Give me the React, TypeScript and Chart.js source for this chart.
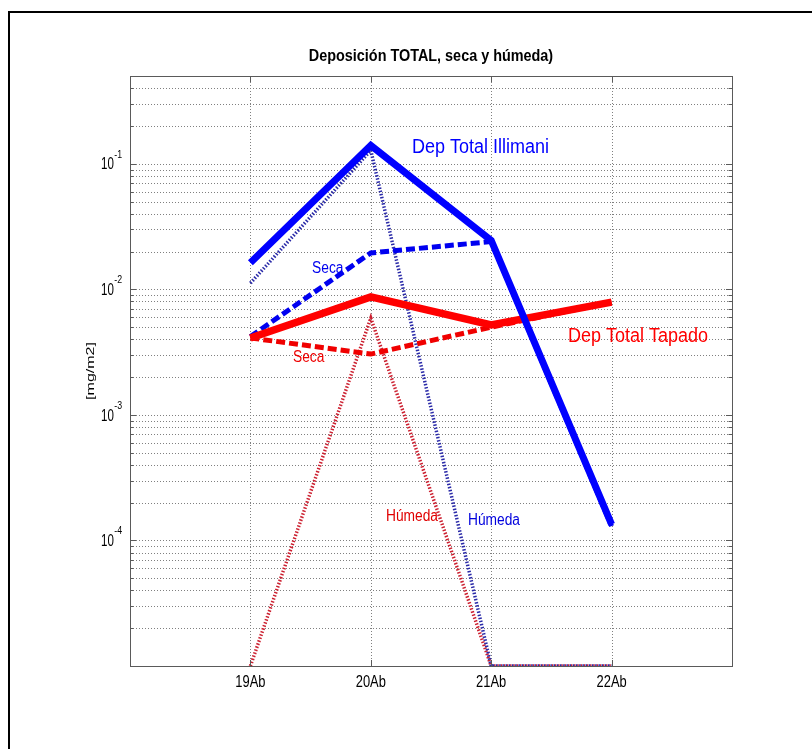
import React, { useEffect, useRef } from 'react';
import { Chart, registerables } from 'chart.js';

Chart.register(...registerables);

// ---- data ----
const categories = ['19Ab', '20Ab', '21Ab', '22Ab'];
const dayPositions = [19, 20, 21, 22];
const illimaniTotal = [0.0163, 0.14, 0.0245, 0.000134];
const illimaniSeca = [0.0042, 0.0195, 0.024, 0.00013];
const illimaniHumeda = [0.0112, 0.128, 0.00001, 0.00001];
const tapadoTotal = [0.0041, 0.0087, 0.0052, 0.0079];
const tapadoSeca = [0.0041, 0.00305, 0.005, 0.0079];
const tapadoHumeda = [0.00001, 0.0059, 0.00001, 0.00001];
const yTickExponents = [-4, -3, -2, -1];
const xLimits = [18, 23];
const yLimits = [1e-5, 0.5];
const titleText = 'Deposición TOTAL, seca y húmeda)';
const yAxisLabel = '[mg/m2]';
const annotationTexts = ['Dep Total Illimani', 'Seca', 'Húmeda', 'Dep Total Tapado', 'Seca', 'Húmeda'];
const annotationX = [20.342, 19.512, 20.807, 21.638, 19.354, 20.126];
const annotationY = [0.134, 0.01452, 0.000144, 0.00424, 0.00288, 0.000155];
const annotationSizes = [20, 16, 16, 20, 16, 16];
const annotationColors = ['#0000ff', '#0000ee', '#0000dd', '#ff0000', '#ee0000', '#e00000'];

const FONT = '"Liberation Sans", Arial, Helvetica, sans-serif';

function drawText(
  ctx: CanvasRenderingContext2D,
  text: string,
  x: number,
  y: number,
  o: { size: number; sx: number; color: string; align?: CanvasTextAlign; baseline?: CanvasTextBaseline; weight?: string; rotate?: number }
) {
  ctx.save();
  ctx.translate(x, y);
  ctx.scale(o.sx, 1);
  if (o.rotate) ctx.rotate(o.rotate);
  ctx.font = `${o.weight || 'normal'} ${o.size}px ${FONT}`;
  ctx.fillStyle = o.color;
  ctx.textAlign = o.align || 'left';
  ctx.textBaseline = o.baseline || 'middle';
  ctx.fillText(text, 0, 0);
  ctx.restore();
}

function gridValues(): { v: number; major: boolean }[] {
  const out: { v: number; major: boolean }[] = [];
  for (let e = -5; e <= -1; e++) {
    for (let m = 1; m <= 9; m++) {
      const v = m * Math.pow(10, e);
      if (v > yLimits[0] * 1.0001 && v < yLimits[1] * 0.9999) out.push({ v, major: m === 1 });
    }
  }
  return out;
}

const gridPlugin = {
  id: 'matlabGrid',
  beforeDatasetsDraw(chart: any) {
    const { ctx, chartArea: a, scales } = chart;
    const y = scales.y;
    const x = scales.x;
    ctx.save();
    ctx.strokeStyle = '#808080';
    ctx.lineWidth = 1;
    ctx.setLineDash([1, 2]);
    gridValues().forEach(({ v }) => {
      const py = Math.round(y.getPixelForValue(v)) + 0.5;
      ctx.beginPath();
      ctx.moveTo(a.left, py);
      ctx.lineTo(a.right, py);
      ctx.stroke();
    });
    dayPositions.forEach((d) => {
      const px = Math.round(x.getPixelForValue(d)) + 0.5;
      ctx.beginPath();
      ctx.moveTo(px, a.top);
      ctx.lineTo(px, a.bottom);
      ctx.stroke();
    });
    ctx.restore();
  },
};

const overlayPlugin = {
  id: 'matlabOverlay',
  afterDraw(chart: any) {
    const { ctx, chartArea: a, scales } = chart;
    const y = scales.y;
    const x = scales.x;
    ctx.save();
    // axes box
    ctx.strokeStyle = '#5a5a5a';
    ctx.lineWidth = 1;
    ctx.setLineDash([]);
    ctx.strokeRect(Math.round(a.left) + 0.5, Math.round(a.top) + 0.5, Math.round(a.right - a.left), Math.round(a.bottom - a.top));
    // y ticks inside, left and right
    gridValues().forEach(({ v, major }) => {
      const py = Math.round(y.getPixelForValue(v)) + 0.5;
      const len = major ? 6 : 3.5;
      ctx.beginPath();
      ctx.moveTo(a.left, py);
      ctx.lineTo(a.left + len, py);
      ctx.moveTo(a.right, py);
      ctx.lineTo(a.right - len, py);
      ctx.stroke();
    });
    // x ticks top and bottom
    dayPositions.forEach((d) => {
      const px = Math.round(x.getPixelForValue(d)) + 0.5;
      ctx.beginPath();
      ctx.moveTo(px, a.top);
      ctx.lineTo(px, a.top + 6);
      ctx.moveTo(px, a.bottom);
      ctx.lineTo(px, a.bottom - 6);
      ctx.stroke();
    });
    // x tick labels
    categories.forEach((c, i) => {
      drawText(ctx, c, x.getPixelForValue(dayPositions[i]), a.bottom + 16, {
        size: 17, sx: 0.76, color: '#000', align: 'center',
      });
    });
    // y tick labels 10^n
    yTickExponents.forEach((e) => {
      const py = y.getPixelForValue(Math.pow(10, e));
      const left = 101;
      ctx.font = `17px ${FONT}`;
      const w10 = ctx.measureText('10').width * 0.68;
      drawText(ctx, '10', left, py + 1, { size: 17, sx: 0.68, color: '#000' });
      drawText(ctx, String(e), left + w10 + 0.5, py - 9, { size: 11, sx: 0.8, color: '#000' });
    });
    // y axis label
    drawText(ctx, yAxisLabel, 90.5, (a.top + a.bottom) / 2, {
      size: 16, sx: 0.7, color: '#000', align: 'center', rotate: -Math.PI / 2,
    });
    // title
    drawText(ctx, titleText, (a.left + a.right) / 2, 57, {
      size: 16, sx: 0.9, color: '#000', align: 'center', weight: 'bold',
    });
    // annotations
    annotationTexts.forEach((t, i) => {
      drawText(ctx, t, x.getPixelForValue(annotationX[i]), y.getPixelForValue(annotationY[i]), {
        size: annotationSizes[i], sx: annotationSizes[i] === 20 ? 0.9 : 0.86, color: annotationColors[i],
      });
    });
    // figure frame (top and left)
    ctx.strokeStyle = '#000';
    ctx.lineWidth = 2;
    ctx.beginPath();
    ctx.moveTo(9, chart.height);
    ctx.lineTo(9, 12);
    ctx.lineTo(chart.width, 12);
    ctx.stroke();
    ctx.restore();
  },
};

function series(vals: number[]) {
  return dayPositions.map((d, i) => ({ x: d, y: vals[i] }));
}

export default function App() {
  const ref = useRef<HTMLCanvasElement | null>(null);
  useEffect(() => {
    if (!ref.current) return;
    const common = { pointRadius: 0, tension: 0, borderJoinStyle: 'miter' as const, borderCapStyle: 'butt' as const, fill: false };
    const chart = new Chart(ref.current, {
      type: 'line',
      data: {
        datasets: [
          { ...common, label: 'Dep Total Illimani', data: series(illimaniTotal), borderColor: '#0000ff', borderWidth: 7, order: 0 },
          { ...common, label: 'Dep Total Tapado', data: series(tapadoTotal), borderColor: '#ff0000', borderWidth: 7.5, order: 1 },
          { ...common, label: 'Seca Illimani', data: series(illimaniSeca), borderColor: '#0000f0', borderWidth: 5, borderDash: [9, 4], order: 2 },
          { ...common, label: 'Seca Tapado', data: series(tapadoSeca), borderColor: '#f00000', borderWidth: 5, borderDash: [9, 4], order: 3 },
          { ...common, label: 'Húmeda Illimani', data: series(illimaniHumeda), borderColor: '#2a2aa8', borderWidth: 3.5, borderDash: [1.5, 1.7], order: 4 },
          { ...common, label: 'Húmeda Tapado', data: series(tapadoHumeda), borderColor: '#cc2030', borderWidth: 3.5, borderDash: [1.5, 1.7], order: 5 },
        ] as any,
      },
      options: {
        responsive: false,
        animation: false,
        layout: { padding: { left: 130, right: 80, top: 76, bottom: 83 } },
        scales: {
          x: { type: 'linear', min: xLimits[0], max: xLimits[1], display: false },
          y: { type: 'logarithmic', min: yLimits[0], max: yLimits[1], display: false },
        },
        plugins: { legend: { display: false }, tooltip: { enabled: false }, title: { display: false } },
      },
      plugins: [gridPlugin, overlayPlugin],
    });
    return () => chart.destroy();
  }, []);
  return (
    <div style={{ position: 'fixed', left: 0, top: 0, width: 812, height: 749, background: '#fff' }}>
      <canvas ref={ref} width={812} height={749} style={{ display: 'block' }} />
    </div>
  );
}
